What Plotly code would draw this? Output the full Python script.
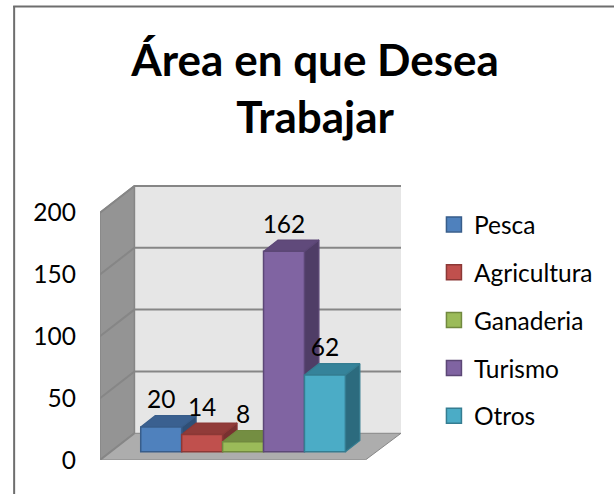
import plotly.graph_objects as go

categories = ["Pesca", "Agricultura", "Ganaderia", "Turismo", "Otros"]
values = [20, 14, 8, 162, 62]
front_colors = ["#4F81BD", "#C0504D", "#9BBB59", "#8064A2", "#4BACC6"]
top_colors = ["#3A6090", "#913B39", "#748E42", "#604A7B", "#35839A"]
side_colors = ["#2F4F76", "#783130", "#5F7536", "#4F3D66", "#2C6B7E"]
edge_colors = ["#385D8A", "#8C3836", "#71893F", "#5C4776", "#357D91"]
y_ticks = [0, 50, 100, 150, 200]

FONT = "Lato"
W, H = 614, 494
PX_X = 41.0       # pixels per category
PX_Y = 1.2365     # pixels per value unit
L, R, B = 99.5, 401.0, 460.0
FLOOR_DX, FLOOR_DY = 34.5 / PX_X, 26.7 / PX_Y
BAR_DX, BAR_DY = 14.5 / PX_X, 11.3 / PX_Y
BASE = 8.3 / PX_Y
wall_top = 200 + FLOOR_DY
ytop = wall_top + 4        # headroom so the top gridline stays inside the axis range
T = B - ytop * PX_Y
x0 = (L - 160.8) / PX_X
x1 = (R - 160.8) / PX_X

WALL = "#E6E6E6"; SIDE = "#949494"; FLOOR = "#ADADAD"; GRID = "#868686"
fig = go.Figure()


def poly(xs, ys, fill, line, width=1, xa="x", ya="y"):
    fig.add_trace(go.Scatter(x=xs, y=ys, mode="lines", fill="toself", fillcolor=fill,
                             line=dict(color=line, width=width), hoverinfo="skip",
                             showlegend=False, cliponaxis=False, xaxis=xa, yaxis=ya))


# walls and floor
back_x = x0 + FLOOR_DX
floor_right = x1 - FLOOR_DX - 1.2 / PX_X
poly([back_x, x1, x1, back_x, back_x], [FLOOR_DY, FLOOR_DY, wall_top, wall_top, FLOOR_DY], WALL, WALL)
poly([x0, x0, back_x, back_x, x0], [0, 200, wall_top, FLOOR_DY, 0], SIDE, GRID, 1.5)
poly([x0, floor_right, x1, back_x, x0], [0, 0, FLOOR_DY, FLOOR_DY, 0], FLOOR, GRID, 1)
# gridlines
for t in y_ticks:
    poly_x = [x0, back_x, x1]
    poly_y = [t, t + FLOOR_DY, t + FLOOR_DY]
    if t == 0:
        poly_x, poly_y = poly_x[:2], poly_y[:2]
    fig.add_trace(go.Scatter(x=poly_x, y=poly_y, mode="lines", line=dict(color=GRID, width=2),
                             hoverinfo="skip", showlegend=False, cliponaxis=False))

# top and side faces, left to right
for i, v in enumerate(values):
    a, b = i - 0.5, i + 0.5
    lo, hi = BASE, BASE + v
    poly([b, b + BAR_DX, b + BAR_DX, b, b], [lo, lo + BAR_DY, hi + BAR_DY, hi, lo],
         side_colors[i], edge_colors[i], 1.2)
    poly([a, b, b + BAR_DX, a + BAR_DX, a], [hi, hi, hi + BAR_DY, hi + BAR_DY, hi],
         top_colors[i], edge_colors[i], 1.2)

# front faces and legend
for i, (c, v) in enumerate(zip(categories, values)):
    fig.add_trace(go.Bar(x=[i], y=[v], base=BASE, width=1, marker=dict(color=front_colors[i],
                  line=dict(color=edge_colors[i], width=1.5)), name=c, showlegend=False,
                  xaxis="x2", yaxis="y2", cliponaxis=False))
    fig.add_trace(go.Scatter(x=[None], y=[None], mode="markers", name=c, legendgroup=c,
                  marker=dict(symbol="square", size=15, color=front_colors[i],
                              line=dict(color=edge_colors[i], width=1.5)),
                  xaxis="x2", yaxis="y2"))

# value labels
fig.add_trace(go.Scatter(x=list(range(len(values))), y=[BASE + v + BAR_DY + 1 for v in values],
                         mode="text", text=[str(v) for v in values], textposition="top center",
                         textfont=dict(family=FONT, size=24.5, color="#000000"), hoverinfo="skip",
                         showlegend=False, xaxis="x2", yaxis="y2", cliponaxis=False))

def px(v):
    return (v - L) / (R - L)

def py(v):
    return (B - v) / (B - T)

axis_x = dict(range=[x0, x1], visible=False, fixedrange=True)
fig.update_layout(
    width=W, height=H, autosize=False, paper_bgcolor="#FFFFFF", plot_bgcolor="rgba(0,0,0,0)",
    margin=dict(l=L, r=W - R, t=T, b=H - B, pad=0), barmode="overlay",
    font=dict(family=FONT, color="#000000"),
    title=dict(text="<b>Área en que Desea<br>Trabajar</b>", font=dict(family=FONT, size=44, color="#000000"),
               x=px(315), xanchor="center", xref="paper", y=0.847, yanchor="middle", yref="container"),
    xaxis=axis_x,
    xaxis2=dict(axis_x, overlaying="x", anchor="y2"),
    yaxis=dict(range=[0, ytop], tickvals=y_ticks, ticktext=[str(t) for t in y_ticks], showgrid=False,
               zeroline=False, showline=False, ticks="", ticklabelstandoff=23,
               tickfont=dict(family=FONT, size=24.5, color="#000000"), fixedrange=True),
    yaxis2=dict(range=[0, ytop], overlaying="y", anchor="x2", visible=False, fixedrange=True),
    legend=dict(x=px(434), xref="paper", xanchor="left", y=py(320.5), yanchor="middle", yref="paper",
                font=dict(family=FONT, size=24.5, color="#000000"), tracegroupgap=13,
                bgcolor="rgba(0,0,0,0)", itemclick=False, itemdoubleclick=False),
    showlegend=True,
    shapes=[
        dict(type="line", xref="paper", yref="paper", x0=px(12.5), x1=px(620), y0=py(6.5), y1=py(6.5),
             line=dict(color="#6E6E6E", width=2), layer="below"),
        dict(type="line", xref="paper", yref="paper", x0=px(13.5), x1=px(13.5), y0=py(6), y1=py(500),
             line=dict(color="#6E6E6E", width=2), layer="below"),
    ],
)
fig.write_html("out.html", post_script="document.body.style.margin='0';",
               config={"displayModeBar": False})
